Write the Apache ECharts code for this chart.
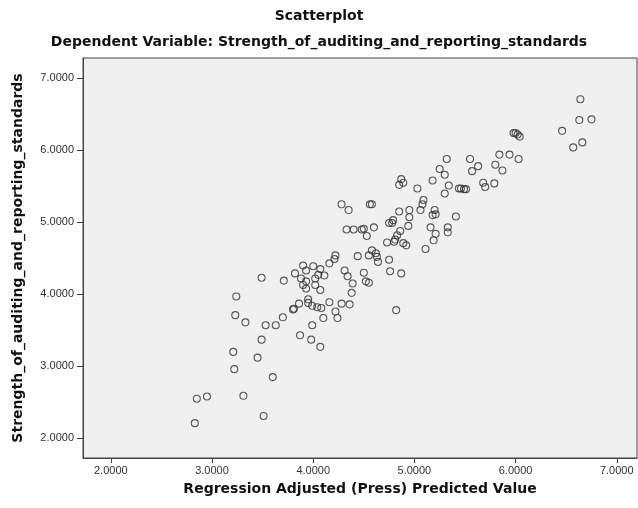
<!DOCTYPE html>
<html>
<head>
<meta charset="utf-8">
<script src="https://cdn.jsdelivr.net/npm/echarts@6/dist/echarts.min.js"></script>
<style>
html,body{margin:0;padding:0;background:#fff;}
#chart{width:638px;height:508px;}
</style>
</head>
<body>
<div id="chart"></div>
<script>
// Regression Adjusted (Press) Predicted Value
const predictedValues = [
  2.83,2.85,2.95,3.31,3.51,3.60,3.22,3.21,3.45,3.49,3.24,3.23,3.33,3.53,3.63,3.49,3.71,3.70,
  3.90,4.00,4.07,4.16,3.93,3.82,3.88,3.93,4.02,4.05,4.11,3.90,3.93,4.02,4.07,3.95,3.86,3.81,3.80,3.95,3.99,4.04,4.08,4.16,4.10,3.99,3.87,3.98,4.07,4.28,4.36,4.22,4.24,4.82,
  4.22,4.21,4.44,4.55,4.58,4.62,4.63,4.64,4.75,4.76,4.87,4.50,4.52,4.55,4.31,4.34,4.39,4.38,4.73,4.80,4.89,4.92,
  4.28,4.35,4.56,4.58,4.33,4.40,4.48,4.50,4.53,4.60,4.79,4.78,4.75,4.85,4.95,4.95,4.94,4.86,4.83,4.81,
  5.11,5.19,5.21,5.16,5.33,5.33,5.20,5.18,5.21,5.41,5.09,5.08,5.06,
  4.87,4.89,4.85,5.03,5.18,5.34,5.30,5.25,5.30,5.32,5.55,5.57,5.63,5.44,5.46,5.49,5.51,5.68,5.70,5.79,5.80,5.87,5.84,5.94,6.03,5.98,6.00,6.02,6.04,6.46,6.57,6.66,6.63,6.75,6.64
];
// Strength_of_auditing_and_reporting_standards
const strengthValues = [
  2.21,2.55,2.58,2.59,2.31,2.85,2.96,3.20,3.12,3.37,3.97,3.71,3.61,3.57,3.57,4.23,4.19,3.68,
  4.40,4.39,4.35,4.43,4.33,4.29,4.22,4.18,4.22,4.27,4.26,4.13,4.08,4.13,4.06,3.93,3.87,3.80,3.79,3.88,3.84,3.82,3.81,3.89,3.67,3.57,3.43,3.37,3.27,3.87,3.86,3.76,3.67,3.78,
  4.54,4.49,4.53,4.54,4.61,4.57,4.52,4.45,4.48,4.32,4.29,4.30,4.18,4.16,4.33,4.25,4.15,4.02,4.72,4.73,4.71,4.68,
  5.25,5.17,5.25,5.25,4.90,4.90,4.90,4.91,4.81,4.93,5.03,4.99,4.99,5.15,5.17,5.07,4.95,4.88,4.82,4.76,
  4.63,4.75,4.84,4.93,4.93,4.86,5.17,5.10,5.11,5.08,5.31,5.25,5.17,
  5.60,5.55,5.52,5.47,5.58,5.51,5.40,5.74,5.66,5.88,5.88,5.71,5.78,5.47,5.47,5.46,5.46,5.55,5.49,5.54,5.80,5.72,5.94,5.94,5.88,6.24,6.24,6.22,6.19,6.27,6.04,6.11,6.42,6.43,6.71
];
const xTickValues = [2, 3, 4, 5, 6, 7];
const yTickValues = [2, 3, 4, 5, 6, 7];

const chartTitle = 'Scatterplot';
const chartSubtitle = 'Dependent Variable: Strength_of_auditing_and_reporting_standards';
const xAxisTitle = 'Regression Adjusted (Press) Predicted Value';
const yAxisTitle = 'Strength_of_auditing_and_reporting_standards';

const points = predictedValues.map((x, i) => [x, strengthValues[i]]);

const titleFont = 'DejaVu Sans';
const tickFont = 'Liberation Sans';
const axisColor = '#444';

const chart = echarts.init(document.getElementById('chart'), null, {renderer: 'canvas'});
chart.setOption({
  animation: false,
  backgroundColor: '#fff',
  title: [
    {text: chartTitle, left: 'center', top: 4,
     textStyle: {fontFamily: titleFont, fontSize: 14, fontWeight: 'bold', color: '#111'}},
    {text: chartSubtitle, left: 'center', top: 30,
     textStyle: {fontFamily: titleFont, fontSize: 14, fontWeight: 'bold', color: '#111'}}
  ],
  grid: {
    left: 83, right: 1, top: 58, bottom: 50,
    show: true, backgroundColor: '#f0f0f0', borderColor: axisColor, borderWidth: 1
  },
  xAxis: {
    type: 'value', min: 1.725, max: 7.2,
    splitLine: {show: false},
    axisLine: {show: true, onZero: false, lineStyle: {color: axisColor, width: 1}},
    axisTick: {show: true, length: 5, customValues: xTickValues, lineStyle: {color: axisColor}},
    axisLabel: {customValues: xTickValues, formatter: v => v.toFixed(4), fontFamily: tickFont,
                fontSize: 11, color: '#333', margin: 7},
    name: xAxisTitle, nameLocation: 'middle', nameGap: 24,
    nameTextStyle: {fontFamily: titleFont, fontSize: 14, fontWeight: 'bold', color: '#111'}
  },
  yAxis: {
    type: 'value', min: 1.726, max: 7.282,
    splitLine: {show: false},
    axisLine: {show: true, onZero: false, lineStyle: {color: axisColor, width: 1}},
    axisTick: {show: true, length: 6, customValues: yTickValues, lineStyle: {color: axisColor}},
    axisLabel: {customValues: yTickValues, formatter: v => v.toFixed(4), fontFamily: tickFont,
                fontSize: 11, color: '#333', margin: 9},
    name: yAxisTitle, nameLocation: 'middle', nameGap: 58, nameRotate: 90,
    nameTextStyle: {fontFamily: titleFont, fontSize: 14, fontWeight: 'bold', color: '#111'}
  },
  series: [{
    type: 'scatter',
    data: points,
    symbol: 'circle',
    symbolSize: 7,
    itemStyle: {color: 'rgba(0,0,0,0)', borderColor: '#333', borderWidth: 1.1},
    emphasis: {disabled: true}
  }]
});
</script>
</body>
</html>
